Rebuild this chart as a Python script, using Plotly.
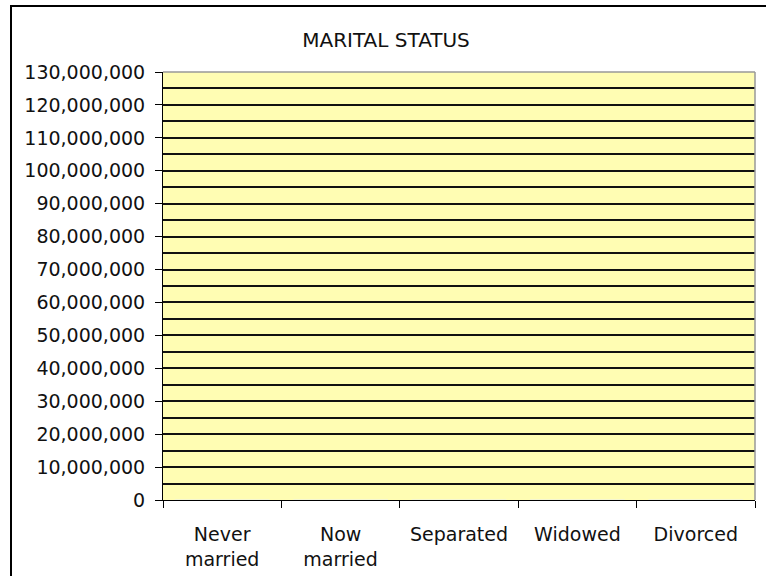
import plotly.graph_objects as go

categories = ["Never<br>married", "Now<br>married", "Separated", "Widowed", "Divorced"]
values = [0, 0, 0, 0, 0]
y_ticks = list(range(0, 130_000_001, 10_000_000))
y_tick_labels = [f"{v:,}" for v in y_ticks]

W, H = 766, 576
ml, mt = 163, 72
mr = W - 755
mb = H - 500
pw, ph = W - ml - mr, H - mt - mb

def px_x(x):
    return (x - ml) / pw

def px_y(y):
    return 1 - (y - mt) / ph

fig = go.Figure(go.Bar(x=categories, y=values, marker_color="#9999FF"))

font = "DejaVu Sans, Arial, sans-serif"

fig.update_layout(
    width=W, height=H,
    margin=dict(l=ml, r=mr, t=mt, b=mb, autoexpand=False),
    paper_bgcolor="white",
    plot_bgcolor="#FFFDB3",
    showlegend=False,
    title=dict(text="MARITAL STATUS", x=386 / W, xref="container", xanchor="center",
               y=1 - 40 / H, yref="container", yanchor="middle",
               font=dict(family=font, size=20, color="#111")),
    font=dict(family=font, size=19, color="#111"),
    xaxis=dict(
        type="category", range=[-0.5, 4.5], showline=True, linecolor="black", linewidth=1,
        ticks="outside", ticklen=7, tickcolor="black", tickson="boundaries",
        showgrid=False, ticklabelstandoff=17, fixedrange=True,
    ),
    yaxis=dict(
        range=[0, 130_000_000], tickvals=y_ticks, ticktext=y_tick_labels,
        showline=True, linecolor="black", linewidth=1,
        ticks="outside", ticklen=7, tickcolor="black",
        showgrid=True, gridcolor="#111", gridwidth=1.5,
        minor=dict(dtick=5_000_000, showgrid=True, gridcolor="#111", gridwidth=1.5),
        zeroline=False, ticklabelstandoff=6,
    ),
    shapes=[
        dict(type="line", xref="paper", yref="paper", x0=0, x1=1, y0=1, y1=1,
             line=dict(color="#999", width=1.5)),
        dict(type="line", xref="paper", yref="paper", x0=1, x1=1, y0=0, y1=1,
             line=dict(color="#999", width=1.5)),
        dict(type="rect", xref="paper", yref="paper",
             x0=px_x(11), x1=px_x(800), y0=px_y(6), y1=px_y(600),
             line=dict(color="black", width=2), layer="below"),
    ],
)

fig.write_html("out.html", config={"displayModeBar": False},
               post_script="document.body.style.margin='0px';")
